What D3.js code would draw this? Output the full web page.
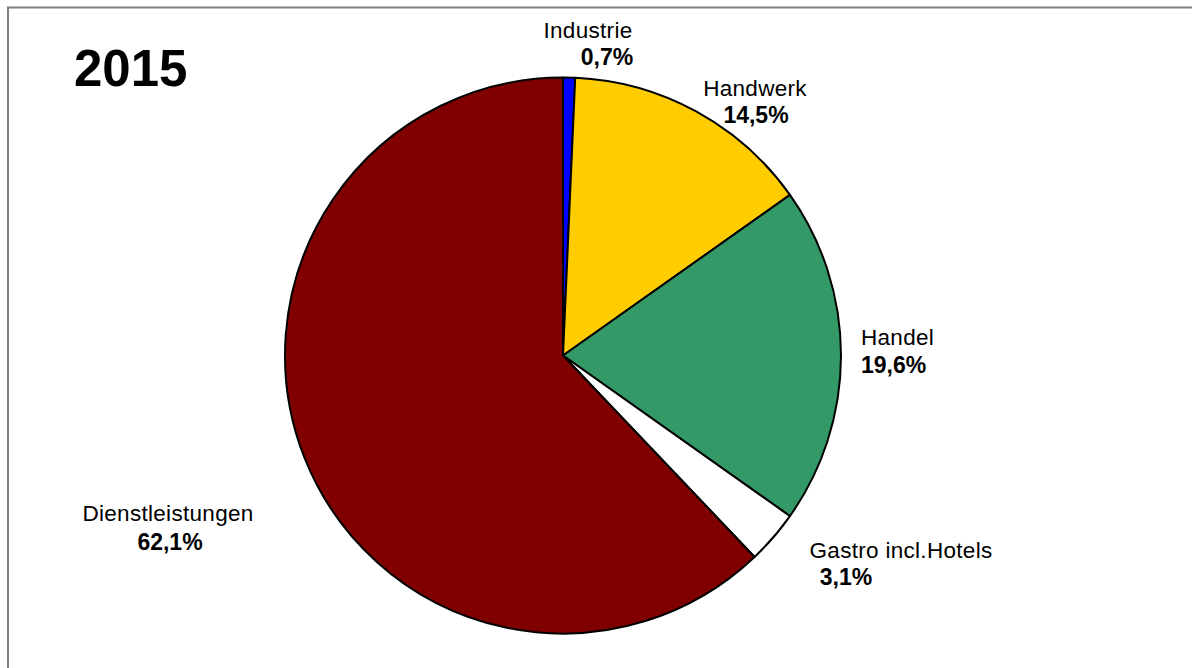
<!DOCTYPE html>
<html>
<head>
<meta charset="utf-8">
<script src="https://cdn.jsdelivr.net/npm/d3@7"></script>
<style>
  html, body { margin: 0; padding: 0; background: #fff; }
  svg { display: block; font-family: "Liberation Sans", Arial, sans-serif; }
</style>
</head>
<body>
<svg id="chart"></svg>
<script>
// Chart data
const title = "2015";
const categories = ["Industrie", "Handwerk", "Handel", "Gastro incl.Hotels", "Dienstleistungen"];
const values = [0.7, 14.5, 19.6, 3.1, 62.1];
const colors = ["#0000FF", "#FFCC00", "#339966", "#FFFFFF", "#800000"];

const width = 1192;
const height = 668;

const svg = d3.select("#chart")
  .attr("width", width)
  .attr("height", height);

// frame (only top and left edges fall inside the picture)
svg.append("rect")
  .attr("x", 8)
  .attr("y", 7.5)
  .attr("width", 1200)
  .attr("height", 700)
  .attr("fill", "none")
  .attr("stroke", "#808080")
  .attr("stroke-width", 2);

const cx = 563, cy = 355.5, radius = 278;

const pie = d3.pie().sort(null).value(d => d);
const arc = d3.arc().innerRadius(0).outerRadius(radius);

const slices = pie(values);

const g = svg.append("g").attr("transform", `translate(${cx},${cy})`);

g.selectAll("path")
  .data(slices)
  .enter().append("path")
  .attr("d", arc)
  .attr("fill", (d, i) => colors[i])
  .attr("stroke", "#000")
  .attr("stroke-width", 2)
  .attr("stroke-linejoin", "round");

// title
svg.append("text")
  .attr("x", 74)
  .attr("y", 86)
  .attr("font-size", 51)
  .attr("font-weight", "bold")
  .text(title);

// label placement (Excel style, placed by hand around the pie)
const labelPos = [
  { x: 588, y: 38, vx: 607, vy: 65, anchor: "middle" },
  { x: 755, y: 96, vx: 756, vy: 123, anchor: "middle" },
  { x: 861, y: 345, vx: 861, vy: 373, anchor: "start" },
  { x: 901, y: 558, vx: 846, vy: 585, anchor: "middle" },
  { x: 168, y: 521, vx: 170, vy: 550, anchor: "middle" }
];

const fmt = v => v.toFixed(1).replace(".", ",") + "%";

const labels = svg.append("g").attr("class", "labels");

categories.forEach((c, i) => {
  const p = labelPos[i];
  labels.append("text")
    .attr("x", p.x)
    .attr("y", p.y)
    .attr("text-anchor", p.anchor)
    .attr("font-size", 22.5)
    .attr("letter-spacing", 0.3)
    .text(c);
  labels.append("text")
    .attr("x", p.vx)
    .attr("y", p.vy)
    .attr("text-anchor", p.anchor)
    .attr("font-size", 23)
    .attr("font-weight", "bold")
    .text(fmt(values[i]));
});
</script>
</body>
</html>
